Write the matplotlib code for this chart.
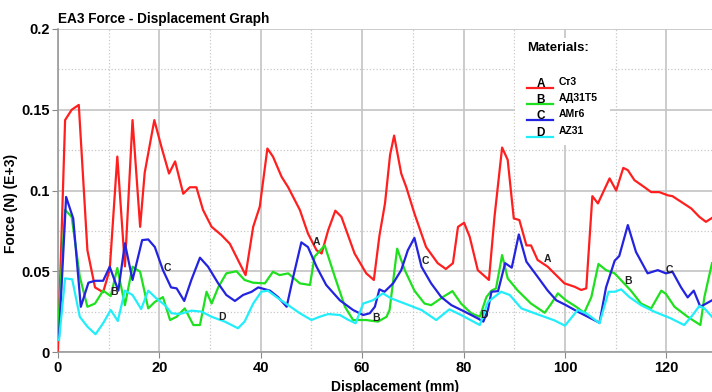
import matplotlib
matplotlib.use("Agg")
import matplotlib.pyplot as plt
from matplotlib.lines import Line2D
from matplotlib.patches import Rectangle

plt.rcParams["font.family"] = ["Liberation Sans", "DejaVu Sans"]
plt.rcParams["font.weight"] = "bold"

# displacement (mm), force (N) (E+3)
st3 = [
    (0, 0.001), (1.4, 0.1436), (2.7, 0.150), (4.1, 0.153), (5.8, 0.063), (7.3, 0.040),
    (8.9, 0.037), (10.2, 0.051), (11.7, 0.121), (13.2, 0.053), (14.7, 0.1436), (16.2, 0.0775),
    (17.1, 0.111), (19.0, 0.1436), (20.4, 0.127), (21.9, 0.1105), (23.1, 0.118), (24.7, 0.098),
    (26.0, 0.102), (27.3, 0.102), (28.6, 0.088), (30.3, 0.0775), (32.2, 0.0725), (33.9, 0.067),
    (37.0, 0.0476), (38.5, 0.0775), (39.8, 0.090), (41.3, 0.126), (42.4, 0.121), (44.1, 0.1085),
    (45.4, 0.102), (47.7, 0.088), (49.3, 0.0734), (51.0, 0.063), (52.0, 0.061), (53.3, 0.0755),
    (54.7, 0.0875), (55.9, 0.0837), (58.5, 0.061), (60.8, 0.0487), (62.3, 0.0446), (63.4, 0.072),
    (64.5, 0.092), (65.5, 0.122), (66.3, 0.134), (67.7, 0.1105), (68.7, 0.102), (70.3, 0.0858),
    (72.6, 0.065), (74.9, 0.055), (76.5, 0.0514), (77.9, 0.055), (78.9, 0.0775), (80.1, 0.080),
    (81.2, 0.0714), (82.8, 0.0507), (85.0, 0.0446), (86.1, 0.0837), (87.6, 0.1266), (88.7, 0.119),
    (89.9, 0.0827), (91.0, 0.0817), (92.4, 0.066), (93.3, 0.066), (94.6, 0.057), (96.6, 0.0528),
    (97.9, 0.0487), (99.9, 0.0425), (101.9, 0.0404), (103.2, 0.0384), (104.2, 0.0394),
    (105.4, 0.0965), (106.5, 0.092), (108.8, 0.1075), (110.1, 0.100), (111.5, 0.114),
    (112.4, 0.1126), (113.7, 0.1064), (115.7, 0.102), (117.0, 0.099), (118.6, 0.099),
    (120.3, 0.097), (121.2, 0.0965), (122.9, 0.093), (124.9, 0.0889), (126.5, 0.0837),
    (127.8, 0.0806), (129.0, 0.083),
]

ad31t5 = [
    (0, 0.0136), (1.4, 0.088), (2.7, 0.0837), (4.3, 0.0466), (5.8, 0.028), (7.3, 0.030),
    (8.9, 0.038), (10.4, 0.0346), (11.7, 0.052), (13.2, 0.029), (14.7, 0.0528), (16.2, 0.0497),
    (17.8, 0.027), (19.1, 0.031), (20.7, 0.034), (22.1, 0.0198), (23.4, 0.0218), (25.0, 0.027),
    (26.7, 0.0167), (28.0, 0.0167), (29.3, 0.0373), (30.3, 0.030), (31.6, 0.040), (33.2, 0.0487),
    (35.2, 0.050), (36.8, 0.0446), (38.5, 0.0429), (40.8, 0.0425), (42.4, 0.0497), (43.7, 0.0476),
    (45.4, 0.0487), (47.7, 0.0425), (49.7, 0.0415), (50.6, 0.059), (52.6, 0.066), (54.6, 0.0466),
    (56.6, 0.028), (58.2, 0.0198), (60.8, 0.0198), (63.1, 0.0188), (64.8, 0.0218), (65.4, 0.026),
    (66.9, 0.064), (68.4, 0.0507), (70.3, 0.038), (72.3, 0.030), (73.6, 0.029), (75.9, 0.034),
    (77.8, 0.0377), (79.5, 0.030), (81.5, 0.024), (83.2, 0.0218), (84.5, 0.034), (85.5, 0.038),
    (86.4, 0.0394), (87.6, 0.060), (88.7, 0.0456), (90.7, 0.038), (93.3, 0.030), (96.0, 0.0243),
    (97.3, 0.030), (98.6, 0.0363), (100.2, 0.032), (102.2, 0.028), (103.8, 0.0243), (105.2, 0.034),
    (106.6, 0.0545), (108.1, 0.0507), (109.8, 0.0487), (113.0, 0.038), (115.0, 0.030),
    (117.0, 0.027), (119.0, 0.038), (119.9, 0.036), (121.6, 0.028), (124.2, 0.0218),
    (126.7, 0.0167), (127.5, 0.034), (129.0, 0.055),
]

amg6 = [
    (0.2, 0.0095), (1.6, 0.096), (3.0, 0.0827), (4.5, 0.028), (6.0, 0.0429), (7.3, 0.0441),
    (8.9, 0.0441), (10.2, 0.0528), (11.9, 0.038), (13.2, 0.0673), (14.7, 0.0446), (16.6, 0.0693),
    (17.8, 0.0697), (19.1, 0.065), (20.7, 0.0507), (22.3, 0.040), (23.4, 0.0394), (24.9, 0.0316),
    (26.3, 0.0446), (28.0, 0.0584), (29.6, 0.0528), (31.6, 0.0425), (33.2, 0.0353), (34.9, 0.0316),
    (36.5, 0.0353), (38.2, 0.0373), (39.5, 0.040), (41.8, 0.038), (43.4, 0.034), (45.1, 0.028),
    (46.4, 0.0466), (48.0, 0.0679), (49.3, 0.065), (51.0, 0.0528), (52.9, 0.0415), (55.6, 0.032),
    (58.2, 0.026), (60.2, 0.0229), (61.5, 0.024), (62.5, 0.028), (63.4, 0.0388), (64.4, 0.0373),
    (66.1, 0.0425), (67.7, 0.0507), (69.0, 0.063), (70.3, 0.0707), (71.7, 0.0528), (73.6, 0.0425),
    (75.6, 0.034), (77.6, 0.029), (80.2, 0.025), (82.8, 0.0208), (83.9, 0.0188), (84.8, 0.026),
    (85.5, 0.0373), (86.8, 0.0377), (88.2, 0.055), (89.5, 0.0522), (90.9, 0.0728), (92.4, 0.0559),
    (94.6, 0.0466), (96.6, 0.038), (98.3, 0.032), (100.2, 0.029), (102.5, 0.025), (104.5, 0.0218),
    (106.8, 0.0181), (108.1, 0.040), (109.8, 0.0565), (110.7, 0.0594), (112.4, 0.0786),
    (114.0, 0.062), (116.3, 0.0487), (118.3, 0.0507), (119.9, 0.0487), (121.2, 0.0497),
    (122.9, 0.040), (124.2, 0.0338), (125.4, 0.038), (126.7, 0.028), (129.0, 0.032),
]

az31 = [
    (0.2, 0.0074), (1.4, 0.0456), (2.8, 0.045), (4.3, 0.0218), (5.8, 0.0157), (7.4, 0.011),
    (8.9, 0.0178), (10.4, 0.026), (11.8, 0.0192), (13.2, 0.038), (14.7, 0.0353), (16.4, 0.0266),
    (17.8, 0.038), (19.4, 0.0332), (21.1, 0.029), (22.4, 0.024), (24.0, 0.0235), (26.3, 0.0256),
    (28.3, 0.025), (30.3, 0.0218), (32.9, 0.0188), (35.5, 0.0147), (36.8, 0.0188), (38.5, 0.030),
    (40.1, 0.0373), (41.4, 0.038), (43.1, 0.034), (45.4, 0.029), (47.7, 0.024), (50.0, 0.0198),
    (51.6, 0.0218), (53.3, 0.0235), (55.6, 0.0229), (57.2, 0.020), (58.7, 0.0178), (60.2, 0.030),
    (62.1, 0.032), (64.1, 0.0363), (65.7, 0.0332), (68.4, 0.030), (71.7, 0.026), (74.6, 0.0198),
    (77.2, 0.0264), (79.5, 0.0229), (83.2, 0.0167), (84.8, 0.031), (87.4, 0.0373), (89.1, 0.0353),
    (91.4, 0.027), (94.0, 0.024), (97.9, 0.0196), (100.0, 0.0163), (102.5, 0.026), (104.2, 0.024),
    (106.8, 0.0178), (108.6, 0.0373), (109.8, 0.0373), (111.1, 0.0388), (112.7, 0.034),
    (115.0, 0.029), (117.6, 0.025), (120.9, 0.0208), (123.5, 0.0167), (125.2, 0.0229),
    (126.5, 0.0285), (127.5, 0.027), (129.0, 0.0218),
]

series = [st3, ad31t5, amg6, az31]
letters = ["A", "B", "C", "D"]
names = ["Ст3", "АД31Т5", "АМг6", "AZ31"]
colors = ["#ff1f1f", "#1fe01f", "#2323e0", "#22eefa"]

# letter tags placed along the curves (x, y)
tags = {
    "A": [(51.0, 0.0683), (96.5, 0.0574)],
    "B": [(11.1, 0.0373), (62.8, 0.0212), (112.4, 0.0441)],
    "C": [(21.6, 0.0518), (72.4, 0.0565), (120.6, 0.0507)],
    "D": [(32.4, 0.0217), (84.1, 0.0227)],
}

x_ticks = [0, 20, 40, 60, 80, 100, 120]
y_ticks = [0, 0.05, 0.1, 0.15, 0.2]
y_tick_labels = ["0", "0.05", "0.1", "0.15", "0.2"]

fig = plt.figure(figsize=(7.12, 3.92), dpi=100)
ax = fig.add_axes([58 / 712, 40 / 392, 654 / 712, 323 / 392])

for pts, c in zip(series, colors):
    xs = [p[0] for p in pts]
    ys = [p[1] for p in pts]
    ax.plot(xs, ys, color=c, lw=1.6, zorder=3)

for letter, spots in tags.items():
    for x, y in spots:
        ax.text(x, y, letter, fontsize=7.5, fontweight="bold", color="#222",
                ha="center", va="center", zorder=4)

ax.set_xlim(0, 129)
ax.set_ylim(0, 0.2)
ax.set_xticks(x_ticks)
ax.set_xticklabels([str(v) for v in x_ticks])
ax.set_yticks(y_ticks)
ax.set_yticklabels(y_tick_labels)
ax.set_xticks([10, 30, 50, 70, 90, 110], minor=True)
ax.set_yticks([0.025, 0.075, 0.125, 0.175], minor=True)
ax.grid(True, which="major", color="#c4c4c4", lw=1.2, zorder=1)
ax.grid(True, which="minor", color="#c8c8c8", lw=0.9, ls=":", zorder=1)
ax.tick_params(which="major", length=4, color="#888", labelsize=10.5, pad=2)
ax.tick_params(axis="x", which="major", pad=2.5)
ax.tick_params(which="minor", length=0)
for lab in ax.get_xticklabels() + ax.get_yticklabels():
    lab.set_fontweight("bold")
for s in ["top", "right"]:
    ax.spines[s].set_visible(False)
for s in ["left", "bottom"]:
    ax.spines[s].set_color("#9a9a9a")
    ax.spines[s].set_linewidth(1.2)

ax.set_xlabel("Displacement (mm)", fontsize=10, fontweight="bold")
ax.xaxis.set_label_coords(337 / 654, -34.5 / 323)
ax.xaxis.label.set_va("center")
ax.set_ylabel("Force (N) (E+3)", fontsize=10, fontweight="bold")
ax.yaxis.set_label_coords(-40 / 654, 0.46)

fig.text(58 / 712, 1 - 19 / 392, "EA3 Force - Displacement Graph", fontsize=9.8,
         fontweight="bold", ha="left", va="center")

# hand-made legend box in axes fraction
ax.add_patch(Rectangle((0.699, 0.641), 0.145, 0.331, transform=ax.transAxes,
                       facecolor="white", edgecolor="none", zorder=5))
ax.text(0.717, 0.941, "Materials:", transform=ax.transAxes, fontsize=9.5,
        fontweight="bold", ha="left", va="center", zorder=6)
row_y = [0.817, 0.768, 0.718, 0.666]
for ly, letter, name, c in zip(row_y, letters, names, colors):
    ax.add_line(Line2D([0.717, 0.757], [ly, ly], transform=ax.transAxes,
                       color=c, lw=1.6, zorder=6))
    ax.text(0.738, ly + 0.004, letter, transform=ax.transAxes, fontsize=8.5,
            fontweight="bold", ha="center", va="baseline", zorder=7)
    ax.text(0.765, ly + 0.018, name, transform=ax.transAxes, fontsize=7.5,
            fontweight="bold", ha="left", va="center", zorder=7)

fig.savefig("out.png", dpi=100)
